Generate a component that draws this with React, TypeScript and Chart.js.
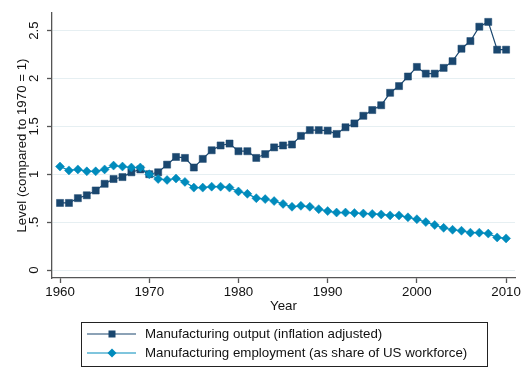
import React, { useEffect, useRef } from "react";
import { Chart, registerables } from "chart.js";

Chart.register(...registerables);

const years = [
  1960, 1961, 1962, 1963, 1964, 1965, 1966, 1967, 1968, 1969,
  1970, 1971, 1972, 1973, 1974, 1975, 1976, 1977, 1978, 1979,
  1980, 1981, 1982, 1983, 1984, 1985, 1986, 1987, 1988, 1989,
  1990, 1991, 1992, 1993, 1994, 1995, 1996, 1997, 1998, 1999,
  2000, 2001, 2002, 2003, 2004, 2005, 2006, 2007, 2008, 2009, 2010,
];

const outputLevel = [
  0.70, 0.70, 0.75, 0.78, 0.83, 0.90, 0.95, 0.97, 1.02, 1.05,
  1.00, 1.02, 1.10, 1.18, 1.17, 1.07, 1.16, 1.25, 1.30, 1.32,
  1.24, 1.24, 1.17, 1.21, 1.28, 1.30, 1.31, 1.40, 1.46, 1.46,
  1.455, 1.42, 1.49, 1.53, 1.61, 1.67, 1.72, 1.85, 1.92, 2.02,
  2.12, 2.05, 2.05, 2.11, 2.18, 2.31, 2.39, 2.54, 2.59, 2.30, 2.30,
];

const employmentShare = [
  1.08, 1.04, 1.05, 1.03, 1.03, 1.05, 1.09, 1.08, 1.07, 1.07,
  1.00, 0.95, 0.94, 0.955, 0.92, 0.86, 0.86, 0.87, 0.87, 0.86,
  0.82, 0.795, 0.75, 0.74, 0.72, 0.69, 0.66, 0.67, 0.66, 0.635,
  0.615, 0.60, 0.60, 0.595, 0.59, 0.585, 0.58, 0.57, 0.57, 0.55,
  0.53, 0.50, 0.47, 0.44, 0.42, 0.41, 0.39, 0.39, 0.38, 0.34, 0.33,
];

const xTicks = [1960, 1970, 1980, 1990, 2000, 2010];
const yTicks = [0, 0.5, 1, 1.5, 2, 2.5];
const seriesLabels = [
  "Manufacturing output (inflation adjusted)",
  "Manufacturing employment (as share of US workforce)",
];
const xTitle = "Year";
const yTitle = "Level (compared to 1970 = 1)";

const FONT = "'Liberation Sans', Arial, Helvetica, sans-serif";
const FONT_SIZE = 13.3;
const NAVY = "#1a476f";
const EBBLUE = "#008bbc";
const AXIS = "#555555";
const GRID = "#e6eff2";

const legendPlugin = {
  id: "stataLegend",
  afterDraw(chart: any) {
    const ctx = chart.ctx as CanvasRenderingContext2D;
    const bx = 81, by = 322, bw = 406, bh = 44;
    const rows = [334, 353];
    ctx.save();
    ctx.strokeStyle = "#222222";
    ctx.lineWidth = 1;
    ctx.strokeRect(bx + 0.5, by + 0.5, bw, bh);
    chart.data.datasets.forEach((ds: any, i: number) => {
      const y = rows[i];
      ctx.strokeStyle = ds.borderColor;
      ctx.lineWidth = ds.borderWidth;
      ctx.beginPath();
      ctx.moveTo(87, y);
      ctx.lineTo(136, y);
      ctx.stroke();
      ctx.fillStyle = ds.pointBackgroundColor;
      const cx = 112;
      if (ds.pointStyle === "rect") {
        ctx.fillRect(cx - 3.5, y - 3.5, 7, 7);
      } else {
        const r = 4.5;
        ctx.beginPath();
        ctx.moveTo(cx, y - r);
        ctx.lineTo(cx + r, y);
        ctx.lineTo(cx, y + r);
        ctx.lineTo(cx - r, y);
        ctx.closePath();
        ctx.fill();
      }
      ctx.fillStyle = "#111111";
      ctx.font = `${FONT_SIZE}px ${FONT}`;
      ctx.textAlign = "left";
      ctx.textBaseline = "middle";
      ctx.fillText(ds.label, 145, y);
    });
    ctx.restore();
  },
};

export default function App() {
  const canvasRef = useRef<HTMLCanvasElement | null>(null);

  useEffect(() => {
    document.body.style.margin = "0";
    const canvas = canvasRef.current;
    if (!canvas) return;
    const chart = new Chart(canvas, {
      type: "line",
      data: {
        datasets: [
          {
            label: seriesLabels[0],
            data: years.map((x, i) => ({ x, y: outputLevel[i] })),
            borderColor: NAVY,
            backgroundColor: NAVY,
            pointBackgroundColor: NAVY,
            pointBorderColor: NAVY,
            borderWidth: 1.2,
            pointStyle: "rect",
            pointRadius: 5,
            pointBorderWidth: 0.5,
            tension: 0,
            order: 1,
          },
          {
            label: seriesLabels[1],
            data: years.map((x, i) => ({ x, y: employmentShare[i] })),
            borderColor: EBBLUE,
            backgroundColor: EBBLUE,
            pointBackgroundColor: EBBLUE,
            pointBorderColor: EBBLUE,
            borderWidth: 1.2,
            pointStyle: "rectRot",
            pointRadius: 4.5,
            pointBorderWidth: 0.5,
            tension: 0,
            order: 0,
          },
        ],
      },
      options: {
        responsive: false,
        animation: false,
        parsing: true,
        layout: { padding: { top: 13, right: 13, left: 0, bottom: 0 } },
        plugins: {
          legend: { display: false },
          tooltip: { enabled: false },
        },
        scales: {
          x: {
            type: "linear",
            min: 1959.1,
            max: 2011,
            afterBuildTicks: (scale: any) => {
              scale.ticks = xTicks.map((v) => ({ value: v }));
            },
            afterFit: (scale: any) => {
              scale.height = 106;
            },
            border: { display: true, color: AXIS, width: 1.3 },
            grid: {
              drawOnChartArea: false,
              drawTicks: true,
              tickLength: 5,
              tickColor: AXIS,
              tickWidth: 1.3,
            },
            ticks: {
              color: "#111111",
              font: { family: FONT, size: FONT_SIZE },
              padding: 1,
              maxRotation: 0,
              minRotation: 0,
              callback: (v: any) => String(v),
            },
            title: {
              display: true,
              text: xTitle,
              color: "#111111",
              font: { family: FONT, size: FONT_SIZE },
              padding: { top: 0, bottom: 70 },
            },
          },
          y: {
            type: "linear",
            min: -0.0835,
            max: 2.683,
            afterBuildTicks: (scale: any) => {
              scale.ticks = yTicks.map((v) => ({ value: v }));
            },
            afterFit: (scale: any) => {
              scale.width = 52;
            },
            border: { display: true, color: AXIS, width: 1.3 },
            grid: {
              drawOnChartArea: true,
              color: GRID,
              lineWidth: 1,
              drawTicks: true,
              tickLength: 5,
              tickColor: AXIS,
              tickWidth: 1.3,
            },
            ticks: {
              color: "#111111",
              font: { family: FONT, size: FONT_SIZE },
              padding: 3,
              minRotation: 90,
              maxRotation: 90,
              crossAlign: "center",
              callback: (v: any) => {
                const n = Number(v);
                if (n === 0) return "0";
                return String(n).replace(/^0\./, ".");
              },
            },
            title: {
              display: true,
              text: yTitle,
              color: "#111111",
              font: { family: FONT, size: FONT_SIZE },
              padding: { top: 14, bottom: 0 },
            },
          },
        },
      } as any,
      plugins: [legendPlugin],
    });
    return () => chart.destroy();
  }, []);

  return (
    <div style={{ position: "fixed", left: 0, top: 0, width: 528, height: 384, background: "#ffffff" }}>
      <canvas ref={canvasRef} width={528} height={384} />
    </div>
  );
}
